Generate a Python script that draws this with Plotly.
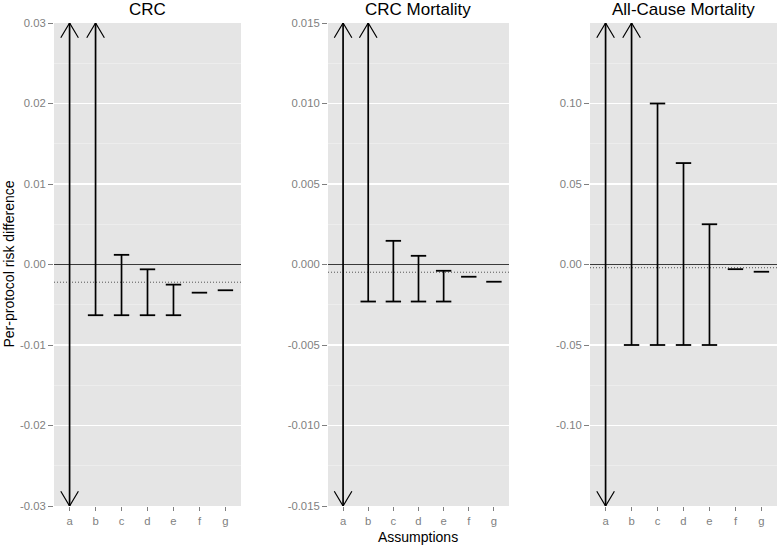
import plotly.graph_objects as go

# ---------------- data ----------------
categories = ["a", "b", "c", "d", "e", "f", "g"]
panel_titles = ["CRC", "CRC Mortality", "All-Cause Mortality"]

crc_lower = [-0.03, -0.0063, -0.0063, -0.0063, -0.0063, -0.0035, -0.0032]
crc_upper = [0.03, 0.03, 0.0012, -0.0006, -0.0025, -0.0035, -0.0032]
crc_ref = -0.0022

crcm_lower = [-0.015, -0.0023, -0.0023, -0.0023, -0.0023, -0.00076, -0.00107]
crcm_upper = [0.015, 0.015, 0.00147, 0.00054, -0.00039, -0.00076, -0.00107]
crcm_ref = -0.00048

acm_lower = [-0.15, -0.05, -0.05, -0.05, -0.05, -0.0029, -0.0045]
acm_upper = [0.15, 0.15, 0.10, 0.063, 0.025, -0.0029, -0.0045]
acm_ref = -0.002

arrow_lower = [True, False, False, False, False, False, False]
arrow_upper = [True, True, False, False, False, False, False]

crc_ticks = [-0.03, -0.02, -0.01, 0.0, 0.01, 0.02, 0.03]
crc_ticktext = ["-0.03", "-0.02", "-0.01", "0.00", "0.01", "0.02", "0.03"]
crcm_ticks = [-0.015, -0.010, -0.005, 0.0, 0.005, 0.010, 0.015]
crcm_ticktext = ["-0.015", "-0.010", "-0.005", "0.000", "0.005", "0.010", "0.015"]
acm_ticks = [-0.10, -0.05, 0.0, 0.05, 0.10]
acm_ticktext = ["-0.10", "-0.05", "0.00", "0.05", "0.10"]

y_ranges = [(-0.03, 0.03), (-0.015, 0.015), (-0.15, 0.15)]

panels = [
    (crc_lower, crc_upper, crc_ref, crc_ticks, crc_ticktext),
    (crcm_lower, crcm_upper, crcm_ref, crcm_ticks, crcm_ticktext),
    (acm_lower, acm_upper, acm_ref, acm_ticks, acm_ticktext),
]

# ---------------- layout geometry ----------------
W, H = 778, 547
x_domains_px = [(54, 241), (328, 509), (590, 777)]
y_top_px, y_bot_px = 23, 506
panel_h_px = y_bot_px - y_top_px
X_RANGE = (-0.6, 6.6)

FONT = "Liberation Sans, Arial, sans-serif"
GREY = "#7F7F7F"

fig = go.Figure()
annotations = []

for p, (lo, hi, ref, tv, tt) in enumerate(panels):
    xa = "x" if p == 0 else f"x{p + 1}"
    ya = "y" if p == 0 else f"y{p + 1}"
    ymin, ymax = y_ranges[p]
    x0, x1 = x_domains_px[p]
    px_per_unit = (x1 - x0) / (X_RANGE[1] - X_RANGE[0])
    dx = 8.8 / px_per_unit
    dy = (ymax - ymin) * 14.7 / panel_h_px

    # zero line and dotted reference line
    fig.add_trace(go.Scatter(x=list(X_RANGE), y=[0, 0], mode="lines",
                             line=dict(color="#3a3a3a", width=1.2),
                             xaxis=xa, yaxis=ya, showlegend=False, hoverinfo="skip"))
    fig.add_trace(go.Scatter(x=list(X_RANGE), y=[ref, ref], mode="lines",
                             line=dict(color="#555555", width=1, dash="1px,2px"),
                             xaxis=xa, yaxis=ya, showlegend=False, hoverinfo="skip"))

    seg_x, seg_y = [], []
    cap_x, cap_y = [], []
    chev_x, chev_y = [], []
    for i, cat in enumerate(categories):
        l, h = lo[i], hi[i]
        if l != h:
            seg_x += [i, i, None]
            seg_y += [l, h, None]
        if arrow_lower[i]:
            chev_x += [i - dx, i, i + dx, None]
            chev_y += [l + dy, l, l + dy, None]
        else:
            cap_x.append(i)
            cap_y.append(l)
        if arrow_upper[i]:
            chev_x += [i - dx, i, i + dx, None]
            chev_y += [h - dy, h, h - dy, None]
        elif h != l:
            cap_x.append(i)
            cap_y.append(h)

    fig.add_trace(go.Scatter(x=seg_x, y=seg_y, mode="lines",
                             line=dict(color="black", width=1.7),
                             xaxis=xa, yaxis=ya, showlegend=False,
                             cliponaxis=False, hoverinfo="skip"))
    fig.add_trace(go.Scatter(x=cap_x, y=cap_y, mode="markers",
                             marker=dict(symbol="line-ew", size=11,
                                         line=dict(color="black", width=1.8)),
                             xaxis=xa, yaxis=ya, showlegend=False,
                             cliponaxis=False, hoverinfo="skip"))
    fig.add_trace(go.Scatter(x=chev_x, y=chev_y, mode="lines",
                             line=dict(color="black", width=1.2),
                             xaxis=xa, yaxis=ya, showlegend=False,
                             cliponaxis=False, hoverinfo="skip"))

    step = tv[1] - tv[0]
    minor_vals = [tv[0] - step / 2] + [(tv[k] + tv[k + 1]) / 2 for k in range(len(tv) - 1)] + [tv[-1] + step / 2]
    minor_vals = [v for v in minor_vals if ymin - 1e-12 <= v <= ymax + 1e-12]

    xkey = "xaxis" if p == 0 else f"xaxis{p + 1}"
    ykey = "yaxis" if p == 0 else f"yaxis{p + 1}"
    fig.update_layout(**{
        xkey: dict(domain=[x0 / W, x1 / W], range=list(X_RANGE), anchor=ya,
                   tickvals=list(range(len(categories))), ticktext=categories,
                   showgrid=False, zeroline=False, showline=False,
                   ticks="outside", ticklen=4, tickcolor=GREY, tickwidth=1,
                   tickfont=dict(family=FONT, size=11.3, color=GREY),
                   fixedrange=True, automargin=False),
        ykey: dict(domain=[(H - y_bot_px) / H, (H - y_top_px) / H],
                   range=[ymin, ymax], anchor=xa,
                   tickvals=tv, ticktext=tt,
                   showgrid=True, gridcolor="#FFFFFF", gridwidth=1.2,
                   zeroline=False, showline=False,
                   ticks="outside", ticklen=5, tickcolor=GREY, tickwidth=1,
                   tickfont=dict(family=FONT, size=11.3, color=GREY),
                   minor=dict(tickvals=minor_vals, showgrid=True,
                              gridcolor="#F2F2F2", gridwidth=0.6, ticks=""),
                   fixedrange=True, automargin=False),
    })

    annotations.append(dict(text=panel_titles[p], xref="paper", yref="paper",
                            x=(x0 + x1) / 2 / W, y=(H - 9) / H,
                            xanchor="center", yanchor="middle", showarrow=False,
                            font=dict(family=FONT, size=17, color="black")))

annotations.append(dict(text="Per-protocol risk difference", xref="paper", yref="paper",
                        x=8 / W, y=(H - (y_top_px + y_bot_px) / 2) / H,
                        xanchor="center", yanchor="middle", textangle=-90,
                        showarrow=False, font=dict(family=FONT, size=14, color="black")))
annotations.append(dict(text="Assumptions", xref="paper", yref="paper",
                        x=(x_domains_px[1][0] + x_domains_px[1][1]) / 2 / W,
                        y=(H - 537) / H, xanchor="center", yanchor="middle",
                        showarrow=False, font=dict(family=FONT, size=14, color="black")))

fig.update_layout(width=W, height=H, margin=dict(l=0, r=0, t=0, b=0, pad=0),
                  paper_bgcolor="white", plot_bgcolor="#E5E5E5",
                  annotations=annotations, showlegend=False, hovermode=False)

fig.write_html("out.html", config={"displayModeBar": False, "staticPlot": True},
               post_script="document.body.style.margin='0';document.body.style.overflow='hidden';")
